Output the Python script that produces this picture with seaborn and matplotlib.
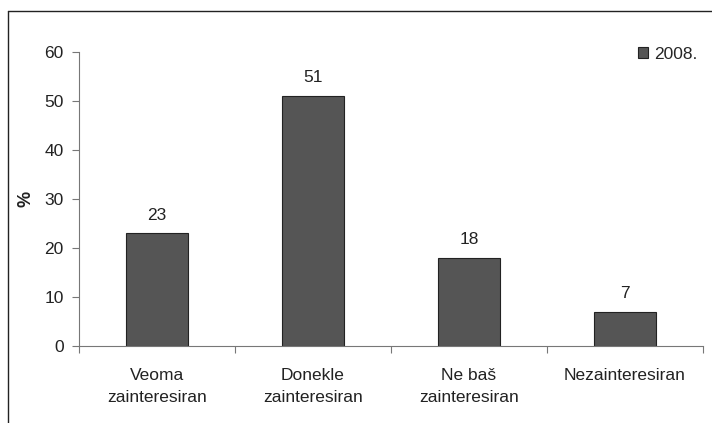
import pandas as pd
import matplotlib.pyplot as plt
import seaborn as sns
from matplotlib.lines import Line2D
from matplotlib.ticker import FixedLocator

categories = ['Veoma\nzainteresiran', 'Donekle\nzainteresiran', 'Ne baš\nzainteresiran', 'Nezainteresiran']
values = [23, 51, 18, 7]
year = '2008.'

df = pd.DataFrame({'kategorija': categories, 'posto': values, 'godina': year})

sns.set_style('white')
plt.rcParams['font.family'] = ['Liberation Sans', 'DejaVu Sans']

fig = plt.figure(figsize=(7.12, 4.23), dpi=100)
ax = fig.add_axes([79 / 712, 1 - 346 / 423, (703 - 79) / 712, (346 - 52) / 423])

bar_col = '#555555'
sns.barplot(data=df, x='kategorija', y='posto', hue='godina', palette=[bar_col],
            width=0.4, edgecolor='#222222', linewidth=0.8, ax=ax)

fs = 12.5
ax.set_xlim(-0.5, 3.5)
ax.set_ylim(0, 60)
ax.set_yticks(range(0, 61, 10))
ax.tick_params(axis='y', labelsize=fs, length=5, width=0.8, color='#777777', direction='out', left=True, pad=6)
ax.tick_params(axis='x', which='major', labelsize=fs, length=0, pad=16)
ax.xaxis.set_minor_locator(FixedLocator([-0.5, 0.5, 1.5, 2.5, 3.5]))
ax.tick_params(axis='x', which='minor', length=5, width=0.8, color='#777777', direction='out', bottom=True)
for lab in ax.get_xticklabels():
    lab.set_linespacing(1.55)
    lab.set_color('#222222')
for lab in ax.get_yticklabels():
    lab.set_color('#222222')

for s in ['top', 'right']:
    ax.spines[s].set_visible(False)
for s in ['left', 'bottom']:
    ax.spines[s].set_color('#777777')
    ax.spines[s].set_linewidth(0.8)

ax.set_xlabel('')
ax.set_ylabel('%', fontsize=13, fontweight='bold', labelpad=7, color='#222222')

for i, v in enumerate(values):
    ax.text(i, v + 2.2, str(v), ha='center', va='bottom', fontsize=fs, color='#222222')

ax.legend(loc='upper right', bbox_to_anchor=(1.011, 1.06), frameon=False, fontsize=fs,
          handlelength=0.6, handleheight=0.6, handletextpad=0.35, borderaxespad=0.3)

# outer frame (top and left only visible)
x0, y0 = 8 / 712, 1 - 11 / 423
fig.add_artist(Line2D([x0, 1], [y0, y0], transform=fig.transFigure, color='#222222', lw=1.0))
fig.add_artist(Line2D([x0, x0], [y0, 0], transform=fig.transFigure, color='#222222', lw=1.0))

fig.savefig('out.png', dpi=100)
